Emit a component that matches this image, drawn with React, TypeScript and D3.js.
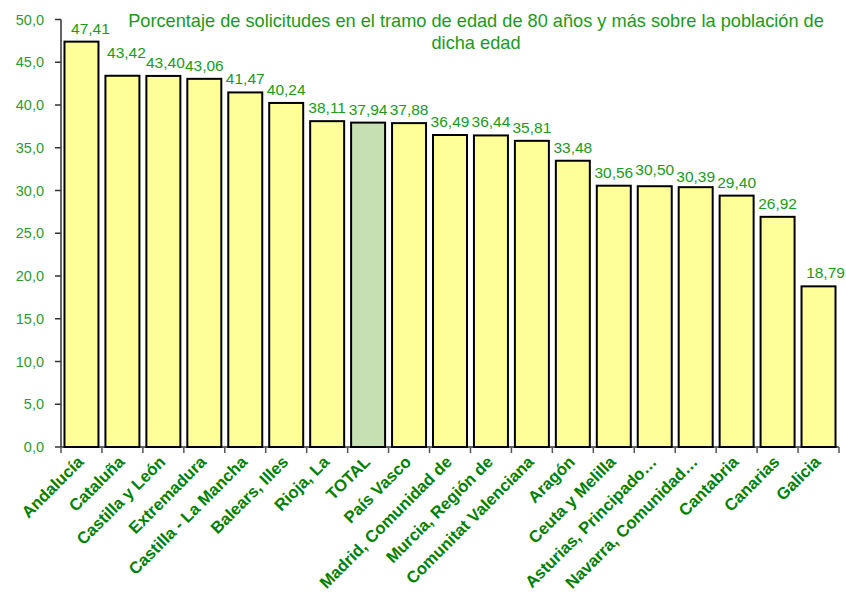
import React from "react";
import * as d3 from "d3";

const categories = [
  "Andalucía", "Cataluña", "Castilla y León", "Extremadura", "Castilla - La Mancha",
  "Balears, Illes", "Rioja, La", "TOTAL", "País Vasco", "Madrid, Comunidad de",
  "Murcia, Región de", "Comunitat Valenciana", "Aragón", "Ceuta y Melilla",
  "Asturias, Principado…", "Navarra, Comunidad…", "Cantabria", "Canarias", "Galicia",
];
const values = [47.41, 43.42, 43.40, 43.06, 41.47, 40.24, 38.11, 37.94, 37.88, 36.49, 36.44, 35.81, 33.48, 30.56, 30.50, 30.39, 29.40, 26.92, 18.79];
const yTicks = [0, 5, 10, 15, 20, 25, 30, 35, 40, 45, 50];
const titleLines = [
  "Porcentaje de solicitudes en el tramo de edad de 80 años y más sobre la población de",
  "dicha edad",
];

const W = 846, H = 599;
const left = 61, right = 839, top = 19.5, bottom = 447;
// layout-only nudges for value labels (as placed in the original)
const labelNudge: Record<number, [number, number]> = {
  0: [9, 0], 1: [4, -10], 2: [2, 0], 14: [0, -3], 15: [0, 3], 18: [7, 0],
};

export default function App() {
  const x = d3.scaleBand<string>().domain(categories).range([left, right]).paddingInner(0.17).paddingOuter(0.085);
  const y = d3.scaleLinear().domain([0, 50]).range([bottom, top]);
  const step = x.step();
  const fmt = (v: number) => v.toFixed(2).replace(".", ",");
  const fmt1 = (v: number) => v.toFixed(1).replace(".", ",");
  const font = "'Liberation Sans', Arial, sans-serif";
  return (
    <svg width={W} height={H} style={{ position: "absolute", left: 0, top: 0, background: "#fff" }} fontFamily={font}>
      <rect x={0} y={0} width={W} height={H} fill="#fff" />
      {titleLines.map((t, i) => (
        <text key={i} x={476} y={27 + i * 22} textAnchor="middle" fontSize={18.2} fill="#1a9a1a">{t}</text>
      ))}
      {/* y axis */}
      <line x1={left} x2={left} y1={top} y2={bottom} stroke="#333" strokeWidth={1.5} />
      {yTicks.map((t) => (
        <g key={t}>
          <line x1={left - 6} x2={left} y1={y(t)} y2={y(t)} stroke="#333" strokeWidth={1.5} />
          <text x={left - 17} y={y(t) + 5} textAnchor="end" fontSize={14.5} fill="#2e9b2e">{fmt1(t)}</text>
        </g>
      ))}
      {/* x axis */}
      <line x1={left} x2={right} y1={bottom} y2={bottom} stroke="#333" strokeWidth={1.5} />
      {d3.range(categories.length + 1).map((i) => (
        <line key={i} x1={left + i * step} x2={left + i * step} y1={bottom} y2={bottom + 6} stroke="#555" strokeWidth={1.5} />
      ))}
      {categories.map((c, i) => {
        const [dx, dy] = labelNudge[i] || [0, 0];
        return (
          <g key={c}>
            <rect x={x(c)!} y={y(values[i])} width={x.bandwidth()} height={bottom - y(values[i])}
              fill={c === "TOTAL" ? "#c6e0b4" : "#ffff99"} stroke="#000" strokeWidth={2} />
            <text x={x(c)! + x.bandwidth() / 2 + dx} y={y(values[i]) - 8 + dy} textAnchor="middle" fontSize={15.5} fill="#1a9a1a">{fmt(values[i])}</text>
            <text transform={`translate(${x(c)! + x.bandwidth() / 2 + 3},${bottom + 16}) rotate(-45)`}
              textAnchor="end" fontSize={16.6} fontWeight="bold" fill="#008000">{c}</text>
          </g>
        );
      })}
    </svg>
  );
}
